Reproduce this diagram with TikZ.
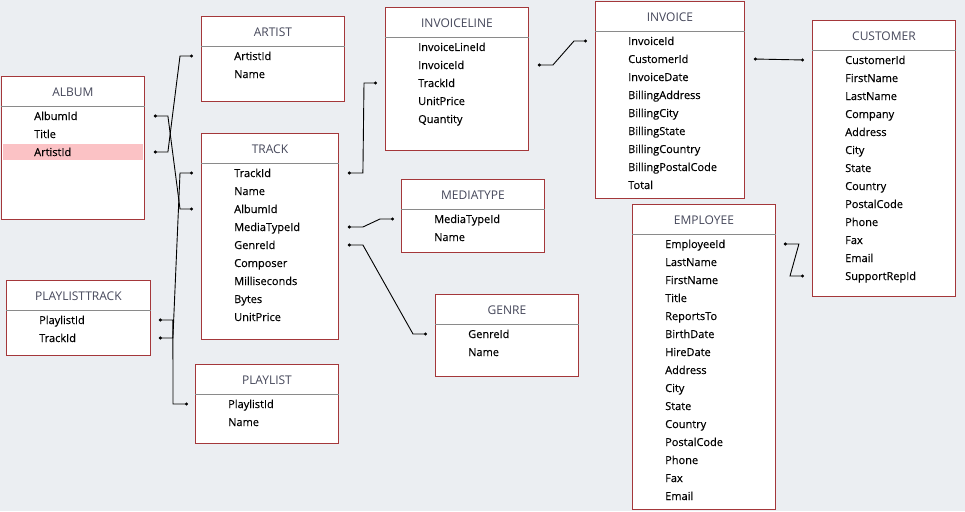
\documentclass[tikz,border=0pt]{standalone}
\usepackage{fontspec}
\setmainfont{Open Sans}
\newfontfamily\fldfont[FakeBold=0.35]{Open Sans}
\usetikzlibrary{calc,arrows.meta}
\definecolor{bg}{HTML}{EBEEF2}
\definecolor{bord}{HTML}{A4373A}
\definecolor{sepc}{HTML}{8A8A8A}
\definecolor{ttl}{HTML}{45475A}
\definecolor{hl}{HTML}{FBC2C5}
\tikzset{
 tablebox/.style={draw=bord, fill=white, line width=0.9pt, inner sep=0pt, anchor=north west, rectangle},
 sepline/.style={draw=sepc, line width=0.9pt},
 ttltext/.style={text=ttl, font=\fontsize{12}{14}\selectfont, inner sep=0pt},
 fldtext/.style={text=black, font=\fldfont\fontsize{11}{13}\selectfont, inner sep=0pt, text height=8pt, text depth=0pt, anchor=west},
 conn/.style={draw=black, line width=0.9pt, {Circle[length=3pt]}-{Circle[length=3pt]}},
}
\newcommand\erbox[6]{%
 \node[tablebox, minimum width=#4pt, minimum height=#5pt] (#1) at (#2,#3) {};
 \draw[sepline] ([yshift=-30pt]#1.north west) -- ([yshift=-30pt]#1.north east);
 \node[ttltext] (#1-t) at ([yshift=-16.5pt]#1.north) {#6};
}
\newcommand\erfields[2]{%
 \foreach \f [count=\i] in {#2} {\node[fldtext] (#1-\i) at ([xshift=33pt,yshift={-(22+18*\i)*1pt}]#1.north west) {\f};}
}
\begin{document}
\begin{tikzpicture}[x=1pt,y=-1pt]
\useasboundingbox (0,0) rectangle (965,511);
\fill[bg] (0,0) rectangle (965,511);

\erbox{artist}{201}{16}{143}{85}{ARTIST}
\erfields{artist}{ArtistId,Name}

\erbox{album}{1}{76}{143}{143}{ALBUM}
\fill[hl] (3,144) rectangle (143,160);
\erfields{album}{AlbumId,Title,ArtistId}

\erbox{track}{201}{133}{137}{206}{TRACK}
\erfields{track}{TrackId,Name,AlbumId,MediaTypeId,GenreId,Composer,Milliseconds,Bytes,UnitPrice}

\erbox{pltrack}{6}{280}{144}{75}{PLAYLISTTRACK}
\erfields{pltrack}{PlaylistId,TrackId}

\erbox{playlist}{195}{364}{143}{79}{PLAYLIST}
\erfields{playlist}{PlaylistId,Name}

\erbox{invline}{385}{7}{143}{143}{INVOICELINE}
\erfields{invline}{InvoiceLineId,InvoiceId,TrackId,UnitPrice,Quantity}

\erbox{invoice}{595}{1}{149}{197}{INVOICE}
\erfields{invoice}{InvoiceId,CustomerId,InvoiceDate,BillingAddress,BillingCity,BillingState,BillingCountry,BillingPostalCode,Total}

\erbox{mediatype}{401}{179}{143}{73}{MEDIATYPE}
\erfields{mediatype}{MediaTypeId,Name}

\erbox{genre}{435}{294}{143}{82}{GENRE}
\erfields{genre}{GenreId,Name}

\erbox{customer}{812}{20}{143}{276}{CUSTOMER}
\erfields{customer}{CustomerId,FirstName,LastName,Company,Address,City,State,Country,PostalCode,Phone,Fax,Email,SupportRepId}

\erbox{employee}{632}{204}{143}{305}{EMPLOYEE}
\erfields{employee}{EmployeeId,LastName,FirstName,Title,ReportsTo,BirthDate,HireDate,Address,City,State,Country,PostalCode,Phone,Fax,Email}

% connectors
\coordinate (c1s) at ($(album.east|-album-3)+(9,0)$);
\coordinate (c1e) at ($(artist.west|-artist-1)+(-8,0)$);
\draw[conn] (c1s) -- ++(14,0) -- ($(c1e)+(-13,0)$) -- (c1e);

\coordinate (c2s) at ($(album.east|-album-1)+(9,0)$);
\coordinate (c2e) at ($(track.west|-track-3)+(-8,0)$);
\draw[conn] (c2s) -- ++(14,0) -- ($(c2e)+(-13,0)$) -- (c2e);

\coordinate (c3s) at ($(pltrack.east|-pltrack-2)+(8,0)$);
\coordinate (c3e) at ($(track.west|-track-1)+(-8,0)$);
\draw[conn] (c3s) -- ++(14,0) -- ($(c3e)+(-13,0)$) -- (c3e);

\coordinate (c4s) at ($(pltrack.east|-pltrack-1)+(8,0)$);
\coordinate (c4e) at ($(playlist.west|-playlist-1)+(-7,0)$);
\draw[conn] (c4s) -- ++(14,0) -- ($(c4e)+(-15,0)$) -- (c4e);

\coordinate (c5s) at ($(track.east|-track-1)+(9,0)$);
\coordinate (c5e) at ($(invline.west|-invline-3)+(-8,0)$);
\draw[conn] (c5s) -- ++(15,0) -- ($(c5e)+(-13,0)$) -- (c5e);

\coordinate (c6s) at ($(invline.east|-invline-2)+(9,0)$);
\coordinate (c6e) at ($(invoice.west|-invoice-1)+(-8,0)$);
\draw[conn] (c6s) -- ++(15,0) -- ($(c6e)+(-13,0)$) -- (c6e);

\coordinate (c7s) at ($(track.east|-track-4)+(9,0)$);
\coordinate (c7e) at ($(mediatype.west|-mediatype-1)+(-7,0)$);
\draw[conn] (c7s) -- ++(15,0) -- ($(c7e)+(-14,0)$) -- (c7e);

\coordinate (c8s) at ($(track.east|-track-5)+(9,0)$);
\coordinate (c8e) at ($(genre.west|-genre-1)+(-8,0)$);
\draw[conn] (c8s) -- ++(15,0) -- ($(c8e)+(-14,0)$) -- (c8e);

\coordinate (c9s) at ($(invoice.east|-invoice-2)+(9,0)$);
\coordinate (c9e) at ($(customer.west|-customer-1)+(-8,0)$);
\draw[conn] (c9s) -- (c9e);

\coordinate (c10s) at ($(employee.east|-employee-1)+(8,0)$);
\coordinate (c10e) at ($(customer.west|-customer-13)+(-8,0)$);
\draw[conn] (c10s) -- ++(15,0) -- ($(c10e)+(-14,0)$) -- (c10e);
\end{tikzpicture}
\end{document}
